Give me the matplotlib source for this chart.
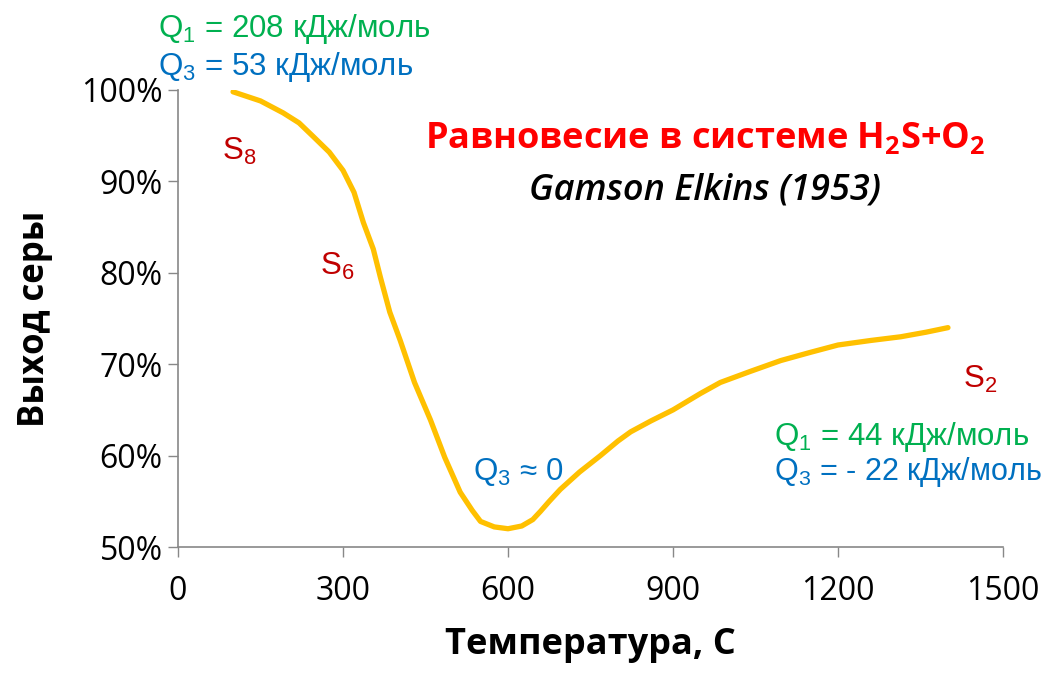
import matplotlib
matplotlib.use('Agg')
import matplotlib.pyplot as plt
from matplotlib.ticker import FuncFormatter

plt.rcParams['font.family'] = ['Liberation Sans', 'DejaVu Sans']
plt.rcParams['mathtext.default'] = 'regular'

# Curve: temperature (C) vs sulfur yield (%)
temp = [100, 150, 191, 220, 246, 275, 300, 320, 337, 355, 368, 385, 404, 430,
        459, 485, 513, 535, 550, 575, 600, 625, 645, 659, 675, 695, 730, 768,
        800, 823, 860, 900, 950, 986, 1040, 1096, 1150, 1200, 1260, 1314, 1360, 1400]
yield_pct = [99.8, 98.8, 97.5, 96.4, 94.9, 93.2, 91.2, 88.8, 85.5, 82.6, 79.5, 75.7,
             72.6, 68.0, 63.9, 59.8, 56.0, 54.0, 52.8, 52.2, 52.0, 52.3, 53.0, 53.9,
             55.0, 56.3, 58.2, 60.0, 61.6, 62.6, 63.8, 65.0, 66.8, 68.0, 69.2, 70.4,
             71.3, 72.1, 72.6, 73.0, 73.5, 74.0]

xticks = [0, 300, 600, 900, 1200, 1500]
yticks = [50, 60, 70, 80, 90, 100]

green = '#00B050'
blue = '#0070C0'
dark_red = '#C00000'

fig = plt.figure(figsize=(10.51, 6.75), dpi=100)
ax = fig.add_axes([0.1694, 0.1896, 0.7849, 0.6771])

ax.plot(temp, yield_pct, color='#FFC000', lw=3.8, solid_capstyle='round')

ax.set_xlim(0, 1500)
ax.set_ylim(50, 100)
ax.set_xticks(xticks)
ax.set_yticks(yticks)
ax.yaxis.set_major_formatter(FuncFormatter(lambda v, p: f'{v:.0f}%'))
ax.tick_params(labelsize=23, colors='#888888', length=7, width=1, labelcolor='black')
for lab in ax.get_xticklabels() + ax.get_yticklabels():
    lab.set_family('Open Sans')
ax.tick_params(axis='x', pad=13)
ax.tick_params(axis='y', pad=4)
for s in ['top', 'right']:
    ax.spines[s].set_visible(False)
for s in ['left', 'bottom']:
    ax.spines[s].set_color('#888888')
    ax.spines[s].set_linewidth(1.2)

ax.set_xlabel('Температура, С', fontsize=26, fontweight='bold', family='Open Sans', labelpad=14)
ax.set_ylabel('Выход серы', fontsize=25, fontweight='bold', family='Open Sans', labelpad=20)

fs = 22.5
ax.text(-36, 105.8, '$Q_1$ = 208 кДж/моль', color=green, fontsize=fs, clip_on=False, va='baseline')
ax.text(-36, 101.6, '$Q_3$ = 53 кДж/моль', color=blue, fontsize=fs, clip_on=False, va='baseline')
ax.text(80, 92.3, '$S_8$', color=dark_red, fontsize=fs, va='baseline')
ax.text(258, 79.8, '$S_6$', color=dark_red, fontsize=fs, va='baseline')
ax.text(537, 57.3, '$Q_3$ ≈ 0', color=blue, fontsize=fs, va='baseline')
ax.text(1427, 67.4, '$S_2$', color=dark_red, fontsize=fs, va='baseline', clip_on=False)
ax.text(1083, 61.2, '$Q_1$ = 44 кДж/моль', color=green, fontsize=fs, va='baseline', clip_on=False)
ax.text(1083, 57.3, '$Q_3$ = - 22 кДж/моль', color=blue, fontsize=fs - 0.5, va='baseline', clip_on=False)

ax.text(959, 93.7, 'Равновесие в системе $H_2S$+$O_2$', color='#FF0000', fontsize=26,
        fontweight='bold', family='Open Sans', ha='center', va='baseline')
ax.text(959, 88.0, 'Gamson Elkins (1953)', color='black', fontsize=26,
        style='italic', fontweight='semibold', family='Open Sans', ha='center', va='baseline')

fig.savefig('out.png', dpi=100)
